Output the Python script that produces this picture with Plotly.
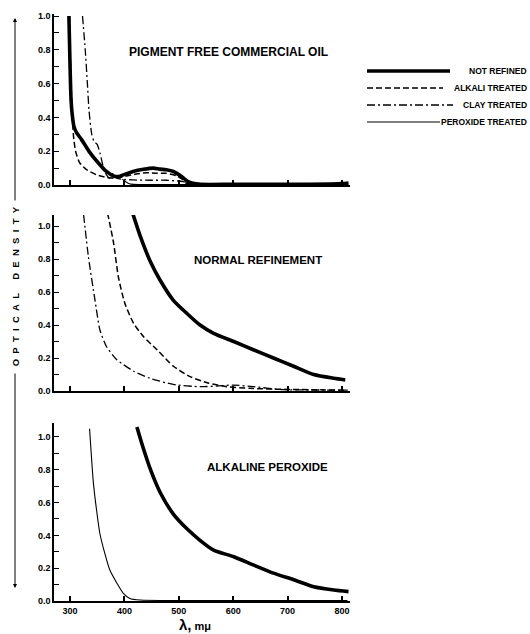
import plotly.graph_objects as go

# ---------------- data (wavelength in m\u03bc, optical density) ----------------
# Panel 1: pigment free commercial oil
p1_notref_x = [298, 300, 302, 304, 307, 312, 321, 337, 355, 367, 380, 390, 398, 416, 435, 453, 465, 477, 490, 505, 517, 526, 540, 600, 700, 780, 800, 812]
p1_notref_y = [1.0, 0.72, 0.5, 0.42, 0.35, 0.31, 0.27, 0.19, 0.12, 0.08, 0.053, 0.05, 0.06, 0.08, 0.093, 0.10, 0.094, 0.09, 0.08, 0.05, 0.02, 0.01, 0.004, 0.004, 0.004, 0.006, 0.008, 0.012]
p1_alkali_x = [299, 301, 303, 305, 307, 311, 318, 331, 349, 367, 386, 404, 422, 441, 459, 477, 496, 508, 514, 530, 600, 700, 810]
p1_alkali_y = [1.0, 0.7, 0.5, 0.36, 0.27, 0.19, 0.13, 0.09, 0.06, 0.045, 0.04, 0.053, 0.065, 0.073, 0.069, 0.069, 0.055, 0.03, 0.01, 0.005, 0.004, 0.004, 0.005]
p1_clay_x = [323, 328, 332, 335, 340, 344, 350, 355, 361, 367, 373, 377, 380, 383, 386, 400, 416, 450, 477, 508, 520, 540, 650, 810]
p1_clay_y = [1.0, 0.8, 0.6, 0.44, 0.3, 0.26, 0.24, 0.19, 0.11, 0.06, 0.04, 0.06, 0.07, 0.06, 0.04, 0.033, 0.03, 0.028, 0.028, 0.02, 0.01, 0.003, 0.003, 0.003]
p1_perox_x = [396, 400, 406, 412, 430, 600, 810]
p1_perox_y = [0.035, 0.025, 0.012, 0.005, 0.003, 0.003, 0.003]

# Panel 2: normal refinement
p2_notref_x = [415, 429, 447, 466, 490, 515, 539, 564, 601, 637, 674, 711, 748, 785, 806]
p2_notref_y = [1.08, 0.94, 0.79, 0.67, 0.55, 0.47, 0.40, 0.35, 0.30, 0.25, 0.20, 0.15, 0.10, 0.077, 0.067]
p2_alkali_x = [369, 380, 389, 401, 417, 435, 460, 490, 521, 552, 588, 631, 693, 760, 810]
p2_alkali_y = [1.08, 0.90, 0.69, 0.53, 0.41, 0.33, 0.25, 0.15, 0.087, 0.05, 0.026, 0.016, 0.01, 0.007, 0.005]
p2_clay_x = [325, 334, 346, 355, 367, 386, 417, 447, 490, 539, 570, 601, 637, 693, 760, 810]
p2_clay_y = [1.07, 0.81, 0.55, 0.37, 0.27, 0.19, 0.12, 0.077, 0.04, 0.026, 0.03, 0.036, 0.026, 0.008, 0.006, 0.005]

# Panel 3: alkaline peroxide
p3_notref_x = [423, 432, 447, 466, 490, 515, 539, 564, 601, 637, 674, 711, 748, 785, 812]
p3_notref_y = [1.06, 0.96, 0.81, 0.66, 0.53, 0.44, 0.37, 0.31, 0.27, 0.22, 0.17, 0.13, 0.087, 0.067, 0.057]
p3_perox_x = [336, 343, 349, 355, 364, 373, 386, 398, 410, 429, 500, 600, 810]
p3_perox_y = [1.05, 0.72, 0.55, 0.41, 0.29, 0.19, 0.11, 0.047, 0.016, 0.006, 0.003, 0.003, 0.003]

x_tick_vals = [300, 400, 500, 600, 700, 800]
x_tick_text = ["300", "400", "500", "600", "700", "800"]
y_tick_vals = [0.0, 0.2, 0.4, 0.6, 0.8, 1.0]
y_tick_text = ["0.0", "0.2", "0.4", "0.6", "0.8", "1.0"]
y_minor_vals = [0.1, 0.3, 0.5, 0.7, 0.9]

panel_titles = ["PIGMENT FREE COMMERCIAL OIL", "NORMAL REFINEMENT", "ALKALINE PEROXIDE"]
legend_names = ["NOT REFINED", "ALKALI TREATED", "CLAY TREATED", "PEROXIDE TREATED"]
y_title = "OPTICAL DENSITY"
x_title_symbol = "\u03bb,"
x_title_unit = "m\u03bc"

# ---------------- styles ----------------
FONT = "Liberation Sans"
W, H = 530, 634
ML, MR, MT, MB = 54, 180, 14, 33
PW = W - ML - MR
PH = H - MT - MB

styles = {
    "NOT REFINED": dict(width=3.6, dash="solid"),
    "ALKALI TREATED": dict(width=1.5, dash="6px,3px"),
    "CLAY TREATED": dict(width=1.3, dash="8px,3px,2px,3px"),
    "PEROXIDE TREATED": dict(width=1.1, dash="solid"),
}


def px2paper_x(px):
    return (px - ML) / PW


def px2paper_y(py):
    return (H - MB - py) / PH


fig = go.Figure()

panels = [
    [(p1_notref_x, p1_notref_y, "NOT REFINED"), (p1_alkali_x, p1_alkali_y, "ALKALI TREATED"),
     (p1_clay_x, p1_clay_y, "CLAY TREATED"), (p1_perox_x, p1_perox_y, "PEROXIDE TREATED")],
    [(p2_notref_x, p2_notref_y, "NOT REFINED"), (p2_alkali_x, p2_alkali_y, "ALKALI TREATED"),
     (p2_clay_x, p2_clay_y, "CLAY TREATED")],
    [(p3_notref_x, p3_notref_y, "NOT REFINED"), (p3_perox_x, p3_perox_y, "PEROXIDE TREATED")],
]

# pixel geometry of each panel: (y of 0.0, y of top), y-range top value
panel_px = [(185, 14, 1.012), (391, 215, 1.067), (601, 423, 1.085)]

for i, traces in enumerate(panels):
    n = "" if i == 0 else str(i + 1)
    for xs, ys, name in traces:
        st = styles[name]
        fig.add_trace(go.Scatter(
            x=xs, y=ys, mode="lines", name=name, showlegend=False,
            line=dict(color="black", width=st["width"], dash=st["dash"], shape="spline", smoothing=0.6),
            xaxis="x" + n, yaxis="y" + n, hoverinfo="skip"))

layout = dict(
    width=W, height=H, margin=dict(l=ML, r=MR, t=MT, b=MB, autoexpand=False),
    paper_bgcolor="white", plot_bgcolor="white", showlegend=False,
    font=dict(family=FONT, color="black"),
)

for i, (y0, ytop, rtop) in enumerate(panel_px):
    n = "" if i == 0 else str(i + 1)
    dom = [px2paper_y(y0), px2paper_y(ytop)]
    layout["xaxis" + n] = dict(
        domain=[0, 1], range=[270.6, 814.7], anchor="y" + n,
        showline=True, linewidth=2, linecolor="black", showgrid=False, zeroline=False,
        ticks="inside", ticklen=5, tickwidth=1.5, tickcolor="black",
        tickvals=x_tick_vals, ticktext=x_tick_text,
        showticklabels=(i == 2), automargin=False,
        tickfont=dict(family=FONT, size=9, weight="bold", color="black"),
    )
    layout["yaxis" + n] = dict(
        domain=dom, range=[0, rtop], anchor="x" + n,
        showline=True, linewidth=1.5, linecolor="black", showgrid=False, zeroline=False,
        ticks="inside", ticklen=5, tickwidth=1.2, tickcolor="black",
        tickvals=y_tick_vals, ticktext=y_tick_text, automargin=False,
        tickfont=dict(family=FONT, size=9, weight="bold", color="black"),
        minor=dict(ticks="inside", tickvals=y_minor_vals, ticklen=5, tickwidth=1.2, tickcolor="black", showgrid=False),
    )

fig.update_layout(**layout)

annotations = []
shapes = []

# panel titles
title_pos = [(228, 52, 12), (258, 260, 11.5), (267, 467, 11.5)]
for t, (cx, cy, fs) in zip(panel_titles, title_pos):
    annotations.append(dict(text="<b>" + t + "</b>", x=px2paper_x(cx), y=px2paper_y(cy),
                            xref="paper", yref="paper", showarrow=False,
                            xanchor="center", yanchor="middle",
                            font=dict(family=FONT, size=fs, color="black")))

# legend (lines + right-aligned labels)
leg_rows = [(71, 450), (88, 443), (105, 453), (122, 440)]
for name, (ly, lend) in zip(legend_names, leg_rows):
    st = styles[name]
    shapes.append(dict(type="line", xref="paper", yref="paper",
                       x0=px2paper_x(367), x1=px2paper_x(lend),
                       y0=px2paper_y(ly), y1=px2paper_y(ly),
                       line=dict(color="black", width=st["width"], dash=st["dash"])))
    annotations.append(dict(text="<b>" + name + "</b>", x=px2paper_x(529), y=px2paper_y(ly),
                            xref="paper", yref="paper", showarrow=False,
                            xanchor="right", yanchor="middle",
                            font=dict(family=FONT, size=8.5, color="black")))

# y-axis title with arrows
nb = "\u00a0"
spaced = (nb * 2).join(list(y_title)).replace(nb * 2 + " " + nb * 2, nb * 5)
annotations.append(dict(text="<b>" + nb + spaced + nb + "</b>", x=px2paper_x(15), y=px2paper_y(287),
                        xref="paper", yref="paper", showarrow=False, textangle=-90,
                        xanchor="center", yanchor="middle",
                        font=dict(family=FONT, size=9.5, color="black")))
annotations.append(dict(text="", x=px2paper_x(15), y=px2paper_y(18), xref="paper", yref="paper",
                        showarrow=True, ax=0, ay=184, arrowhead=2, arrowsize=0.8, arrowwidth=1,
                        arrowcolor="black"))
annotations.append(dict(text="", x=px2paper_x(15), y=px2paper_y(588), xref="paper", yref="paper",
                        showarrow=True, ax=0, ay=-216, arrowhead=2, arrowsize=0.8, arrowwidth=1,
                        arrowcolor="black"))

# x-axis title
annotations.append(dict(text="<b><span style='font-size:15px'>" + x_title_symbol + "</span> " + x_title_unit + "</b>",
                        x=px2paper_x(195), y=px2paper_y(624),
                        xref="paper", yref="paper", showarrow=False,
                        xanchor="center", yanchor="middle",
                        font=dict(family=FONT, size=11, color="black")))

fig.update_layout(annotations=annotations, shapes=shapes)

fig.write_html("out.html", config={"displayModeBar": False},
               post_script="document.body.style.margin='0px';document.body.style.overflow='hidden';")
